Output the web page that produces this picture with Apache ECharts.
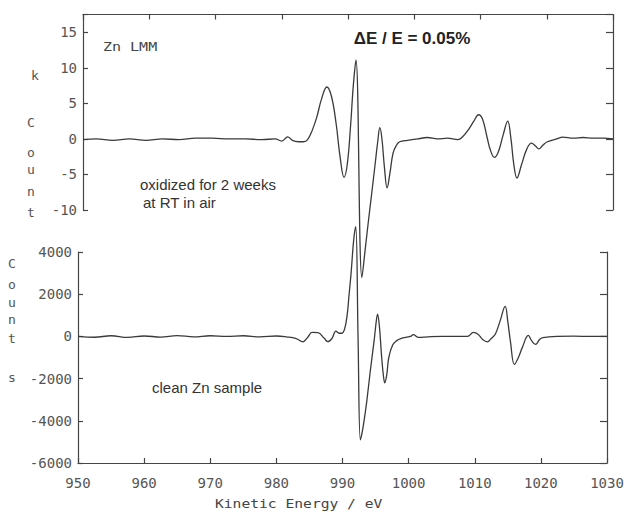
<!DOCTYPE html>
<html><head><meta charset="utf-8">
<script src="https://cdn.jsdelivr.net/npm/echarts@6/dist/echarts.min.js"></script>
<style>html,body{margin:0;padding:0;background:#fff}#c{width:637px;height:512px}</style>
</head><body><div id="c"></div>
<script>
// ---- Data ----
// Oxidized sample, kilo-counts
const energyOxidized = [950.0,952.0,954.5,957.0,959.5,962.0,964.5,967.0,969.5,972.0,974.5,977.0,979.0,980.0,980.9,981.6,982.5,983.3,983.9,984.6,985.3,986.0,986.8,987.5,988.2,988.8,989.4,989.9,990.4,990.8,991.2,992.1,992.6,993.1,993.6,994.1,994.5,994.8,995.1,995.5,995.9,996.3,996.8,997.3,997.8,999.0,1000.5,1002.0,1003.5,1005.0,1006.6,1007.3,1008.1,1009.0,1009.7,1010.3,1011.0,1011.5,1012.1,1012.7,1013.4,1014.1,1014.6,1015.0,1015.5,1016.2,1017.0,1017.7,1018.3,1018.8,1019.4,1020.1,1021.5,1022.4,1024.0,1025.5,1027.0,1028.5,1030.0];
const countsOxidizedK = [-0.1,0.0,-0.2,0.0,-0.2,0.0,-0.1,0.1,0.1,0.0,0.0,-0.1,0.0,-0.3,0.3,-0.2,-0.4,-0.4,-0.1,1.2,3.1,5.6,7.3,6.0,2.2,-2.5,-5.4,-3.5,2.0,7.5,11.1,-19.5,-15.5,-11.4,-7.5,-3.5,-0.3,1.6,0.2,-4.0,-6.9,-5.0,-2.0,-0.9,-0.4,-0.2,0.0,0.2,0.0,0.1,-0.1,0.3,1.2,2.5,3.4,2.8,0.2,-1.6,-2.6,-1.8,0.5,2.5,0.0,-3.4,-5.5,-3.6,-1.4,-0.6,-1.0,-1.4,-0.9,-0.4,0.0,0.25,0.1,0.2,0.1,0.1,0.0];
// Clean Zn sample, counts
const energyClean = [950,952.5,955,957.5,960,962.5,965,967.5,970,972.5,975,977.5,980,981.5,983.0,984.0,984.7,985.4,986.3,987.2,987.8,988.4,989.0,989.5,989.9,990.3,990.7,991.0,991.3,991.7,992.0,992.35,992.7,993.0,993.4,993.7,994.2,994.8,995.1,995.3,995.6,995.9,996.2,996.4,996.7,997.0,997.6,998.2,998.8,1000.3,1000.7,1001.5,1003.0,1005.0,1007.0,1008.9,1009.8,1010.5,1011.2,1011.9,1012.5,1013.1,1013.8,1014.6,1015.0,1015.4,1016.0,1016.6,1017.2,1018.1,1018.6,1019.2,1019.8,1020.3,1022.4,1025,1027.5,1030];
const countsClean = [0,-40,30,-50,20,-30,40,-20,30,0,30,-20,20,-20,-100,-260,-60,190,180,-80,-250,-100,250,150,150,330,1000,2000,3000,4600,5200,0,-4900,-4500,-3700,-3000,-1650,-150,700,1050,400,-900,-1900,-2200,-1800,-1000,-400,-200,-100,0,80,-50,-20,0,0,0,190,100,-150,-260,-100,100,700,1420,700,-250,-1330,-1000,-520,50,-200,-380,-150,-60,0,10,0,0];

// Axis ranges / tick steps
const energyRange = [950, 1030];
const energyStep = 10;
const topRange = [-10, 17.5];
const topStep = 5;
const bottomRange = [-6000, 4000];
const bottomStep = 2000;

// ---- Chart ----
const axisColor = '#454545';
const mono = 'DejaVu Sans Mono';
const sans = 'Liberation Sans, Arial, sans-serif';
const labelBase = {show: true, color: '#555', fontFamily: mono, fontSize: 14, formatter: v => String(v)};
function ax(extra) {
  const base = {
    type: 'value',
    axisLine: {show: true, onZero: false, lineStyle: {color: axisColor, width: 1.2}},
    axisTick: {show: true, inside: true, length: 5, lineStyle: {color: axisColor, width: 1.2}},
    splitLine: {show: false},
    axisLabel: Object.assign({}, labelBase)
  };
  return Object.assign(base, extra);
}
const pairs = (xs, ys) => xs.map((x, i) => [x, ys[i]]);

const chart = echarts.init(document.getElementById('c'), null, {renderer: 'svg'});
const letter = (t, x, y) => ({type: 'text', x: x, y: y, style: {text: t, font: '13px ' + mono, fill: '#555', align: 'center', verticalAlign: 'middle'}});
const rightTick = {show: true, inside: true, length: 7, lineStyle: {color: axisColor, width: 1.2}};

chart.setOption({
  animation: false,
  backgroundColor: '#fff',
  grid: [
    {left: 83, right: 24, top: 14.5, height: 195.5},
    {left: 78, right: 30, top: 252, height: 211}
  ],
  xAxis: [
    ax({gridIndex: 0, position: 'top', min: energyRange[0], max: energyRange[1], interval: energyStep, axisLabel: {show: false}}),
    ax({gridIndex: 1, position: 'bottom', min: energyRange[0], max: energyRange[1], interval: energyStep,
        axisLabel: Object.assign({}, labelBase, {margin: 13})})
  ],
  yAxis: [
    ax({gridIndex: 0, position: 'left', min: topRange[0], max: topRange[1], interval: topStep,
        axisLabel: Object.assign({}, labelBase, {margin: 6, formatter: v => (v % topStep === 0 ? String(v) : '')})}),
    ax({gridIndex: 0, position: 'right', min: topRange[0], max: topRange[1], interval: topStep, axisLabel: {show: false}, axisTick: rightTick}),
    ax({gridIndex: 1, position: 'left', min: bottomRange[0], max: bottomRange[1], interval: bottomStep,
        axisLabel: Object.assign({}, labelBase, {margin: 6})}),
    ax({gridIndex: 1, position: 'right', min: bottomRange[0], max: bottomRange[1], interval: bottomStep, axisLabel: {show: false}, axisTick: rightTick})
  ],
  series: [
    {type: 'line', name: 'oxidized', xAxisIndex: 0, yAxisIndex: 0, data: pairs(energyOxidized, countsOxidizedK),
     showSymbol: false, clip: false, smooth: 0.4, lineStyle: {color: '#3a3a3a', width: 1.3}},
    {type: 'line', name: 'clean', xAxisIndex: 1, yAxisIndex: 2, data: pairs(energyClean, countsClean),
     showSymbol: false, clip: false, smooth: 0.4, lineStyle: {color: '#3a3a3a', width: 1.3}}
  ],
  graphic: [
    {type: 'text', x: 103, y: 47, scaleX: 1.25, style: {text: 'Zn LMM', font: '12px ' + mono, fill: '#444', align: 'left', verticalAlign: 'middle'}},
    {type: 'text', x: 412, y: 38, style: {text: 'ΔE / E = 0.05%', font: 'bold 17px ' + sans, fill: '#222', align: 'center', verticalAlign: 'middle'}},
    {type: 'text', x: 140, y: 184, style: {text: 'oxidized for 2 weeks', font: '15px ' + sans, fill: '#333', align: 'left', verticalAlign: 'middle'}},
    {type: 'text', x: 143, y: 202, style: {text: 'at RT in air', font: '15px ' + sans, fill: '#333', align: 'left', verticalAlign: 'middle'}},
    {type: 'text', x: 152, y: 387, style: {text: 'clean Zn sample', font: '15px ' + sans, fill: '#333', align: 'left', verticalAlign: 'middle'}},
    {type: 'text', x: 215, y: 504, scaleX: 1.22, style: {text: 'Kinetic Energy / eV', font: '12px ' + mono, fill: '#444', align: 'left', verticalAlign: 'middle'}},
    letter('k', 35, 75), letter('C', 31, 122), letter('o', 31, 152), letter('u', 31, 169), letter('n', 31, 191), letter('t', 31, 212),
    letter('C', 12, 263), letter('o', 12, 284), letter('u', 12, 302), letter('n', 12, 319), letter('t', 12, 338), letter('s', 12, 377)
  ]
});
</script>
</body></html>
